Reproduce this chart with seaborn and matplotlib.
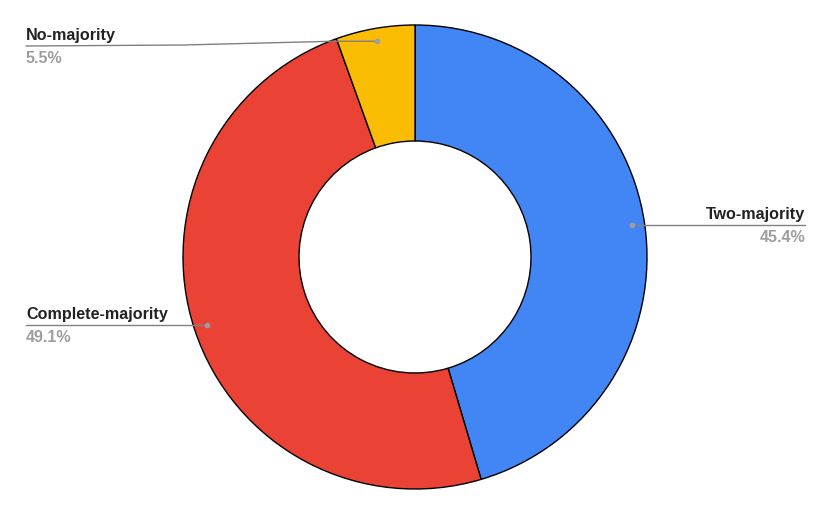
import matplotlib
matplotlib.use("Agg")
import matplotlib.pyplot as plt
import seaborn as sns
import numpy as np

categories = ["Two-majority", "Complete-majority", "No-majority"]
values = [45.4, 49.1, 5.5]
colors = ["#4285F4", "#EA4335", "#FBBC04"]

sns.set_theme(style="white")
plt.rcParams["font.family"] = ["Liberation Sans", "DejaVu Sans"]

W, H = 830, 514
fig = plt.figure(figsize=(W / 100, H / 100), dpi=100)
ax = fig.add_axes([0, 0, 1, 1])

cx, cy_px, R = 415, 257, 232
cy = H - cy_px
ax.pie(values, colors=colors, startangle=90, counterclock=False,
       radius=R, center=(cx, cy), frame=True,
       wedgeprops=dict(width=R * 0.5, edgecolor="black", linewidth=1.0))
ax.set_xlim(0, W)
ax.set_ylim(0, H)
ax.set_aspect("equal")
ax.axis("off")

def Y(p):
    return H - p

# anchor dots at slice midpoints
total = sum(values)
cum = np.cumsum([0] + values[:-1])
r_dot = 219
dots = []
for v, c0 in zip(values, cum):
    a = np.deg2rad((c0 + v / 2) / total * 360)
    dots.append((cx + r_dot * np.sin(a), cy + r_dot * np.cos(a)))

line_c = "#808080"
pct_c = "#9E9E9E"
fs = 11.6

# Two-majority (right)
x0, y0 = dots[0]
ax.plot([x0, 805], [y0, y0], color=line_c, lw=1)
ax.plot([x0], [y0], "o", color="#9E9E9E", ms=3)
ax.text(805, y0 + 3, categories[0], ha="right", va="bottom", fontsize=fs, fontweight="bold", color="#222222")
ax.text(805, y0 - 5, f"{values[0]}%", ha="right", va="top", fontsize=fs, fontweight="bold", color=pct_c)

# Complete-majority (left)
x1, y1 = dots[1]
ax.plot([26, x1], [y1, y1], color=line_c, lw=1)
ax.plot([x1], [y1], "o", color="#9E9E9E", ms=3)
ax.text(26, y1 + 3, categories[1], ha="left", va="bottom", fontsize=fs, fontweight="bold", color="#222222")
ax.text(26, y1 - 5, f"{values[1]}%", ha="left", va="top", fontsize=fs, fontweight="bold", color=pct_c)

# No-majority (top left)
x2, y2 = dots[2]
ax.plot([26, 183, 333, x2], [Y(46), Y(45), y2, y2], color=line_c, lw=1)
ax.plot([x2], [y2], "o", color="#9E9E9E", ms=3)
ax.text(26, Y(46) + 3, categories[2], ha="left", va="bottom", fontsize=fs, fontweight="bold", color="#222222")
ax.text(26, Y(46) - 5, f"{values[2]}%", ha="left", va="top", fontsize=fs, fontweight="bold", color=pct_c)

fig.savefig("out.png", dpi=100, facecolor="white")
